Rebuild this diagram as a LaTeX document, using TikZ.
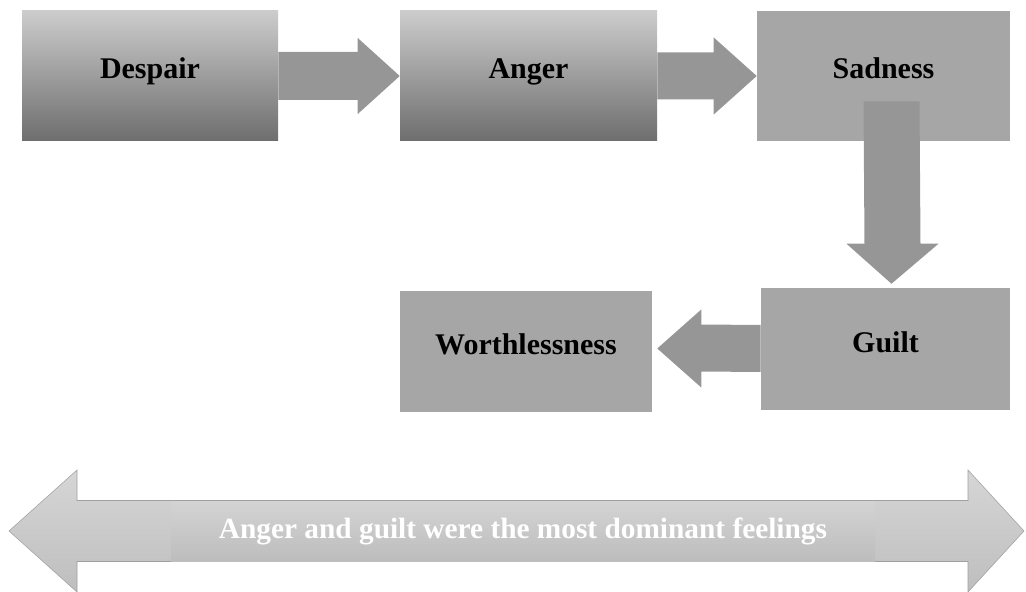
\documentclass[tikz,border=0pt]{standalone}
\usepackage{fontspec}
\setmainfont{Liberation Serif}
\usepackage{tikz}
\usetikzlibrary{backgrounds}
\usetikzlibrary{positioning, calc}
\definecolor{flatgray}{RGB}{166,166,166}
\definecolor{arrowgray}{RGB}{150,150,150}
\definecolor{bandtop}{RGB}{214,214,214}
\definecolor{bandbottom}{RGB}{190,190,190}
\definecolor{bandline}{RGB}{160,160,160}
\tikzset{feeling/.style={rectangle, inner sep=0pt, text height=15pt, text depth=10.5pt, font=\bfseries\fontsize{22.5}{26}\selectfont}}
\tikzset{shadedfeeling/.style={feeling, top color=black!20, middle color=black!34, bottom color=black!57}}
\tikzset{flatfeeling/.style={feeling, fill=flatgray}}
\tikzset{blockarrow/.style={fill=arrowgray}}

\begin{document}
\begin{tikzpicture}[x=0.75pt, y=-0.75pt]

      \useasboundingbox (0,0) rectangle (1026,592);

      % FEELINGS

      \node[shadedfeeling, minimum width=192pt, minimum height=97.5pt] (despair) at (150,76) {Despair};
      \node[shadedfeeling, minimum width=192.75pt, minimum height=97.5pt] (anger) at (528.5,76) {Anger};
      \node[flatfeeling, minimum width=189.75pt, minimum height=97.5pt] (sadness) at (883.5,76) {Sadness};
      \node[flatfeeling, minimum width=186.75pt, minimum height=91.5pt] (guilt) at (885.5,349) {Guilt};
      \node[flatfeeling, minimum width=189pt, minimum height=90.75pt] (worthlessness) at (526,351.5) {Worthlessness};

      % ARROWS

      \fill[blockarrow] ($(despair.east)+(0,-24)$) -- ($(anger.west)+(-42,-24)$) -- ($(anger.west)+(-42,-38)$)
        -- (anger.west) -- ($(anger.west)+(-42,38)$) -- ($(anger.west)+(-42,24)$) -- ($(despair.east)+(0,24)$) -- cycle;
      \fill[blockarrow] ($(anger.east)+(0,-23.5)$) -- ($(sadness.west)+(-43,-23.5)$) -- ($(sadness.west)+(-43,-38.5)$)
        -- (sadness.west) -- ($(sadness.west)+(-43,38.5)$) -- ($(sadness.west)+(-43,23.5)$) -- ($(anger.east)+(0,23.5)$) -- cycle;

      \coordinate (downtip) at ($(guilt.north)+(6,-4)$);
      \fill[blockarrow] ($(sadness.south)+(-20,-40)$) -- ($(sadness.south)+(36,-40)$) -- ($(downtip)+(29,-40)$)
        -- ($(downtip)+(47,-40)$) -- (downtip) -- ($(downtip)+(-45,-40)$) -- ($(downtip)+(-27,-40)$) -- cycle;

      \coordinate (lefttip) at ($(worthlessness.east)+(5,-3)$);
      \fill[blockarrow] ($(guilt.west)+(0,-24)$) -- ($(lefttip)+(44,-24)$) -- ($(lefttip)+(44,-39)$)
        -- (lefttip) -- ($(lefttip)+(44,39)$) -- ($(lefttip)+(44,23)$) -- ($(guilt.west)+(0,23)$) -- cycle;

      % SUMMARY

      \node[rectangle, inner sep=0pt, text=white, font=\bfseries\fontsize{22}{26}\selectfont, minimum width=528pt, minimum height=45pt,
        top color=black!17, bottom color=black!26] (summary) at (523,531) {Anger and guilt were the most dominant feelings};

      \coordinate (bandwest) at (9,531);
      \coordinate (bandeast) at (1024,531);
      \begin{scope}[on background layer]
        \draw[bandline, top color=bandtop, bottom color=bandbottom] (bandwest) -- ($(bandwest)+(68,-61)$)
          -- ($(bandwest)+(68,-30.5)$) -- ($(bandeast)+(-56,-30.5)$) -- ($(bandeast)+(-56,-61)$) -- (bandeast)
          -- ($(bandeast)+(-56,61)$) -- ($(bandeast)+(-56,30.5)$) -- ($(bandwest)+(68,30.5)$) -- ($(bandwest)+(68,61)$) -- cycle;
      \end{scope}
    \end{tikzpicture}
\end{document}
